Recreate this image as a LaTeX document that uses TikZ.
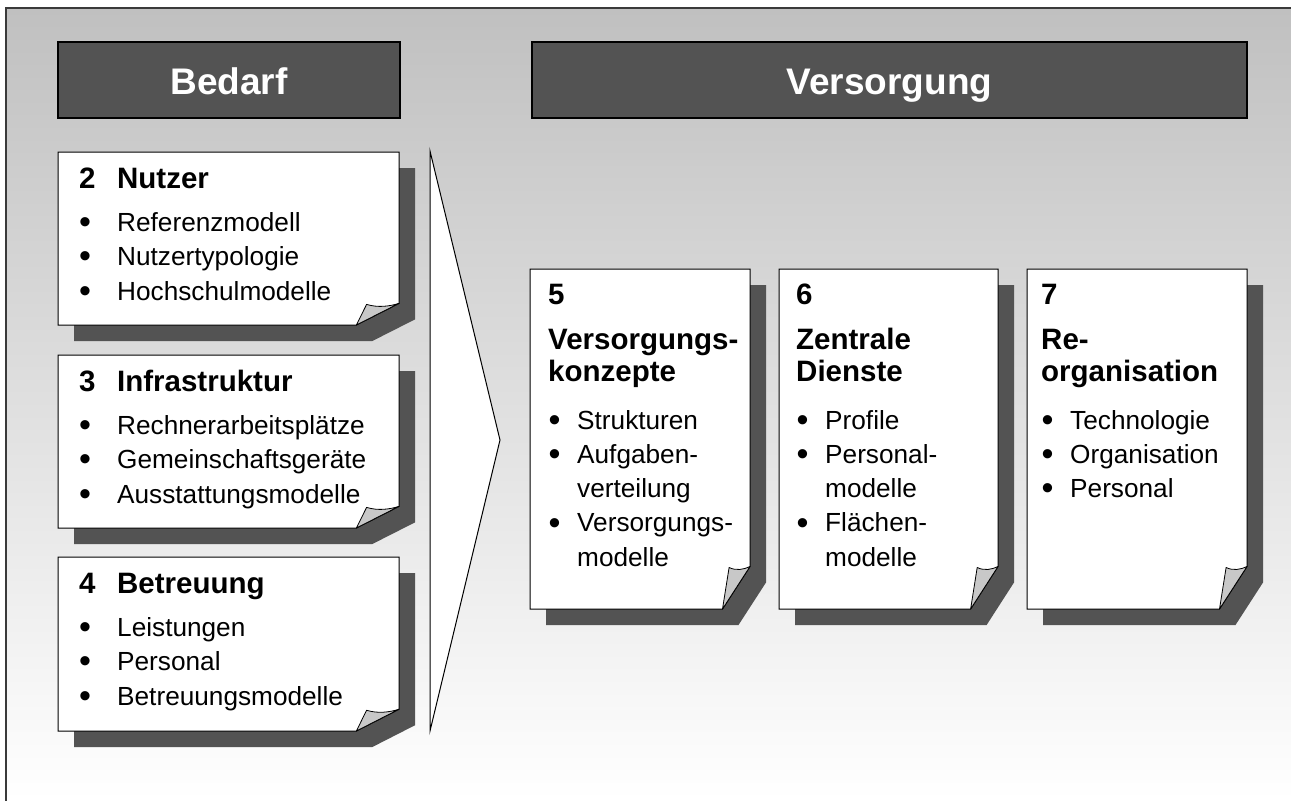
\documentclass[tikz,border=0pt]{standalone}
\usepackage{fontspec}
\setmainfont{Liberation Sans}
\definecolor{bgtop}{HTML}{C0C0C0}
\definecolor{darkfill}{HTML}{535353}
\definecolor{flapc}{HTML}{C8C8C8}
\definecolor{framec}{HTML}{3A3A3A}
\tikzset{
  hdr/.style={draw=black, line width=1.5pt, fill=darkfill, text=white,
    font=\bfseries\fontsize{37}{44}\selectfont, inner sep=0pt,
    text height=30pt, text depth=2pt},
  cardline/.style={draw=black, line width=1pt, fill=white, line join=miter},
  shadowfill/.style={fill=darkfill},
  flapstyle/.style={draw=black, line width=0.8pt, fill=flapc, line join=round},
  txt/.style={inner sep=0pt, anchor=base west, text=black},
  arrowshape/.style={draw=black, line width=1pt, fill=white, line join=miter},
}
\newcommand\bigdot{\raisebox{-2.2pt}{\scalebox{1.3}{\textbullet}}}
\newcommand\lbul[1]{\makebox[38pt][l]{\bigdot}#1}
\newcommand\pbul[1]{\makebox[29pt][l]{\hspace{0.5pt}\bigdot}#1}
\newcommand\pcont[1]{\hspace*{29pt}#1}
\newcommand\ttl[1]{\textbf{\fontsize{29.5}{32}\selectfont #1}}
\newcommand\drawcard[5]{%
  \pgfmathsetmacro\cdR{#2+#4}%
  \pgfmathsetmacro\cdB{#3+#5}%
  \pgfmathsetmacro\cdA{#2+0.875*#4}%
  \pgfmathsetmacro\cdC{#3+0.875*#5}%
  \pgfmathsetmacro\cdP{#2+0.905*#4}%
  \pgfmathsetmacro\cdD{\cdR-\cdP}%
  \fill[shadowfill] ({#2+16},{#3+16}) -- ({\cdR+16},{#3+16}) -- ({\cdR+16},{\cdC+16})
     -- ({\cdA+16},{\cdB+16}) -- ({#2+16},{\cdB+16}) -- cycle;
  \path[cardline] (#2,#3) -- (\cdR,#3) -- (\cdR,\cdC) -- (\cdA,\cdB) -- (#2,\cdB) -- cycle;
  \node[inner sep=0pt, minimum width=#4pt, minimum height=#5pt, anchor=north west] (#1) at (#2,#3) {};
  \path[flapstyle] (\cdA,\cdB) -- (\cdP,{\cdC+1})
     .. controls ({\cdP+0.35*\cdD},{\cdC+4.5}) and ({\cdP+0.7*\cdD},{\cdC+3}) .. (\cdR,\cdC) -- cycle;
}
\begin{document}
\begin{tikzpicture}[x=1pt,y=-1pt]
\useasboundingbox (0,0) rectangle (1291,801);
% background
\shade[top color=bgtop, bottom color=white] (6,8) rectangle (1291,801);
\draw[framec, line width=1.2pt] (1291,8) -- (6,8) -- (6,801);
% headers
\node[hdr, minimum width=342pt, minimum height=76pt] (bedarf) at (229,80) {Bedarf};
\node[hdr, minimum width=715pt, minimum height=76pt] (versorgung) at (889.5,80) {Versorgung};
% arrow
\coordinate (arrtop) at (430,151);
\coordinate (arrtip) at (500,440);
\coordinate (arrbot) at (430,731);
\path[arrowshape] (arrtop) -- (arrtip) -- (arrbot) -- cycle;
% cards
\drawcard{c2}{58}{152}{341}{173}
\drawcard{c3}{58}{355}{341}{173}
\drawcard{c4}{58}{557}{341}{174}
\drawcard{c5}{530}{269}{220}{340}
\drawcard{c6}{779}{269}{219}{340}
\drawcard{c7}{1027}{269}{220}{340}
% texts left
\node[txt] (t2) at (79,188) {\parbox[t]{320pt}{\fontsize{26.2}{34.5}\selectfont
  \ttl{\makebox[38pt][l]{2}Nutzer}\par\vspace{8.5pt}
  \lbul{Referenzmodell}\par
  \lbul{Nutzertypologie}\par
  \lbul{Hochschulmodelle}}};
\node[txt] (t3) at (79,391) {\parbox[t]{320pt}{\fontsize{26.2}{34.5}\selectfont
  \ttl{\makebox[38pt][l]{3}Infrastruktur}\par\vspace{8.5pt}
  \lbul{Rechnerarbeitsplätze}\par
  \lbul{Gemeinschaftsgeräte}\par
  \lbul{Ausstattungsmodelle}}};
\node[txt] (t4) at (79,593) {\parbox[t]{320pt}{\fontsize{26.2}{34.5}\selectfont
  \ttl{\makebox[38pt][l]{4}Betreuung}\par\vspace{8.5pt}
  \lbul{Leistungen}\par
  \lbul{Personal}\par
  \lbul{Betreuungsmodelle}}};
% texts right
\node[txt] (t5) at (548,304) {\parbox[t]{200pt}{\fontsize{26.2}{34.3}\selectfont
  \ttl{5}\par\vspace{10.7pt}
  \ttl{Versorgungs-}\par\vspace{-2.3pt}
  \ttl{konzepte}\par\vspace{13.7pt}
  \pbul{Strukturen}\par
  \pbul{Aufgaben-}\par
  \pcont{verteilung}\par
  \pbul{Versorgungs-}\par
  \pcont{modelle}}};
\node[txt] (t6) at (796,304) {\parbox[t]{200pt}{\fontsize{26.2}{34.3}\selectfont
  \ttl{6}\par\vspace{10.7pt}
  \ttl{Zentrale}\par\vspace{-2.3pt}
  \ttl{Dienste}\par\vspace{13.7pt}
  \pbul{Profile}\par
  \pbul{Personal-}\par
  \pcont{modelle}\par
  \pbul{Flächen-}\par
  \pcont{modelle}}};
\node[txt] (t7) at (1041,304) {\parbox[t]{200pt}{\fontsize{26.2}{34.3}\selectfont
  \ttl{7}\par\vspace{10.7pt}
  \ttl{Re-}\par\vspace{-2.3pt}
  \ttl{organisation}\par\vspace{13.7pt}
  \pbul{Technologie}\par
  \pbul{Organisation}\par
  \pbul{Personal}}};
\end{tikzpicture}
\end{document}
